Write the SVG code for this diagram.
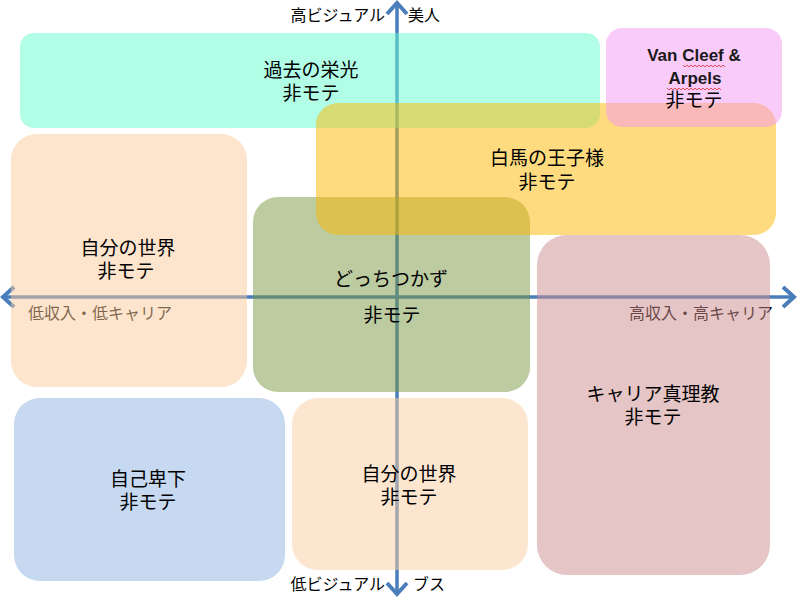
<svg xmlns="http://www.w3.org/2000/svg" width="797" height="597" viewBox="0 0 797 597">
<style>
.box{opacity:0.5}
.t{font-family:"Noto Sans CJK JP","Liberation Sans",sans-serif;font-size:19px;fill:#000;text-anchor:middle}
.ax{font-family:"Noto Sans CJK JP","Liberation Sans",sans-serif;font-size:16px;fill:#000}
.en{font-family:"Liberation Sans","Noto Sans CJK JP",sans-serif;font-size:17px;font-weight:bold;fill:#1a1a1a;text-anchor:middle}
.axis{stroke:#4a7ebb;stroke-width:3.5;fill:none}
.sq{stroke:#e04040;stroke-width:0.9;fill:none}
</style>
<defs>
<marker id="arr" markerUnits="userSpaceOnUse" markerWidth="16" markerHeight="24" refX="13" refY="12" orient="auto-start-reverse">
<path d="M2,2 L13,12 L2,22" stroke="#4a7ebb" stroke-width="4" fill="none" stroke-linejoin="miter"/>
</marker>
</defs>
<rect width="797" height="597" fill="#fff"/>
<g id="connectors">
<line class="axis" x1="3" y1="297" x2="794" y2="297" marker-start="url(#arr)" marker-end="url(#arr)"/>
<line class="axis" x1="397" y1="594" x2="397" y2="3" marker-start="url(#arr)" marker-end="url(#arr)"/>
</g>
<g id="axis-labels">
<text class="ax" x="385" y="21" text-anchor="end">高ビジュアル</text>
<text class="ax" x="408" y="21">美人</text>
<text class="ax" x="385" y="590" text-anchor="end">低ビジュアル</text>
<text class="ax" x="413" y="590">ブス</text>
<text class="ax" x="28" y="319">低収入・低キャリア</text>
<text class="ax" x="773" y="319" text-anchor="end">高収入・高キャリア</text>
</g>
<g id="boxes">
<rect id="box-left" class="box" x="11" y="134" width="236" height="253" rx="26" fill="#fbc999"/>
<rect id="box-blue" class="box" x="14" y="398" width="271" height="183" rx="26" fill="#8db3e1"/>
<rect id="box-bottom" class="box" x="292" y="398" width="236" height="172" rx="26" fill="#fbcd9f"/>
<rect id="box-mauve" class="box" x="537" y="235" width="233" height="340" rx="30" fill="#cd8b8d"/>
<rect id="box-green" class="box" x="253" y="197" width="277" height="195" rx="25" fill="#799741"/>
<rect id="box-cyan" class="box" x="20" y="33" width="580" height="95" rx="14" fill="#65fbcd"/>
<rect id="box-yellow" class="box" x="316" y="103" width="460" height="132" rx="22" fill="#fdb700"/>
<rect id="box-pink" class="box" x="606" y="28" width="176" height="99" rx="16" fill="#f397f3"/>
</g>
<g id="node-kako">
<text class="t" x="311" y="77">過去の栄光</text>
<text class="t" x="311" y="100">非モテ</text>
</g>
<g id="node-vancleef">
<text class="en" x="694" y="61">Van Cleef &amp;</text>
<text class="en" x="695" y="84">Arpels</text>
<path class="sq" d="M683,65 l2,2 l2,-2 l2,2 l2,-2 l2,2 l2,-2 l2,2 l2,-2 l2,2 l2,-2 l2,2 l2,-2 l2,2 l2,-2 l2,2 l2,-2 l2,2 l2,-2 l2,2 l2,-2 l2,2"/>
<path class="sq" d="M667,88 l2,2 l2,-2 l2,2 l2,-2 l2,2 l2,-2 l2,2 l2,-2 l2,2 l2,-2 l2,2 l2,-2 l2,2 l2,-2 l2,2 l2,-2 l2,2 l2,-2 l2,2 l2,-2 l2,2 l2,-2 l2,2 l2,-2 l2,2 l2,-2 l2,2"/>
<text class="t" x="694" y="107">非モテ</text>
</g>
<g id="node-hakuba">
<text class="t" x="547" y="165">白馬の王子様</text>
<text class="t" x="547" y="189">非モテ</text>
</g>
<g id="node-jibun-top">
<text class="t" x="128" y="255">自分の世界</text>
<text class="t" x="126" y="278">非モテ</text>
</g>
<g id="node-docchi">
<text class="t" x="391" y="286">どっちつかず</text>
<text class="t" x="392" y="322">非モテ</text>
</g>
<g id="node-career">
<text class="t" x="653" y="401">キャリア真理教</text>
<text class="t" x="653" y="424">非モテ</text>
</g>
<g id="node-jiko">
<text class="t" x="148" y="486">自己卑下</text>
<text class="t" x="148" y="509">非モテ</text>
</g>
<g id="node-jibun-bottom">
<text class="t" x="409" y="481">自分の世界</text>
<text class="t" x="409" y="504">非モテ</text>
</g>
</svg>
